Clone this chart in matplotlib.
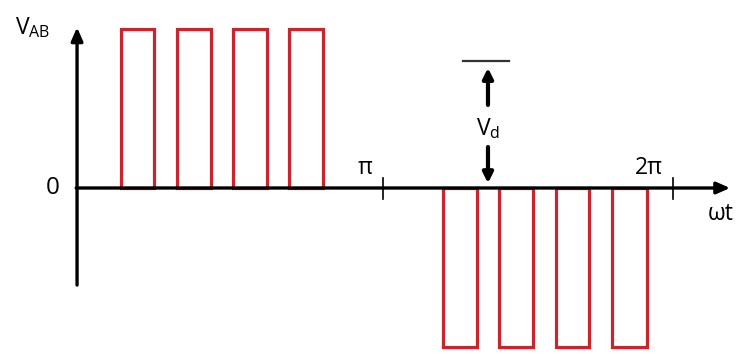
import matplotlib.pyplot as plt
from matplotlib.patches import Rectangle

# pulse edges in units of pi (start, end), amplitude +/-1 of Vd
pos_starts = [0.097, 0.290, 0.483, 0.676]
pos_ends = [0.210, 0.407, 0.600, 0.793]
neg_starts = [1.207, 1.400, 1.597, 1.790]
neg_ends = [1.324, 1.517, 1.710, 1.910]
amplitude = 1.0
tick_positions = [1, 2]
tick_labels = ["π", "2π"]

red = "#c8262c"

fig = plt.figure(figsize=(7.39, 3.55), dpi=100)
ax = fig.add_axes([0, 0, 1, 1])
ax.set_xlim(-0.3207, 2.2276)
ax.set_ylim(-1.050, 1.182)
ax.axis("off")

plt.rcParams["font.family"] = ["Open Sans", "DejaVu Sans"]
fs = 16.5

# switching pulses
for s, e in zip(pos_starts, pos_ends):
    ax.add_patch(Rectangle((s, 0), e - s, amplitude, fill=False,
                           edgecolor=red, lw=2.3, zorder=2))
for s, e in zip(neg_starts, neg_ends):
    ax.add_patch(Rectangle((s, 0), e - s, -amplitude, fill=False,
                           edgecolor=red, lw=2.3, zorder=2))

# axes with arrow heads
arrow = dict(arrowstyle="-|>,head_length=0.8,head_width=0.35", lw=2.4,
             color="black", shrinkA=0, shrinkB=0)
ax.annotate("", xy=(2.197, 0), xytext=(-0.058, 0), arrowprops=arrow, zorder=3)
ax.annotate("", xy=(-0.055, 1.01), xytext=(-0.055, -0.61), arrowprops=arrow, zorder=3)

# ticks at pi and 2pi
for t, lab in zip(tick_positions, tick_labels):
    ax.plot([t, t], [0.06, -0.07], color="black", lw=1.2, zorder=3)
    ax.text(t - 0.035, 0.05, lab, ha="right", va="bottom", fontsize=fs)

ax.text(-0.14, 0.0, "0", ha="center", va="center", fontsize=fs + 1)
ax.text(-0.27, 0.93, "V$_{\\mathregular{AB}}$", ha="left", va="bottom", fontsize=fs)
ax.text(2.165, -0.09, "ωt", ha="center", va="top", fontsize=fs)

# Vd dimension marker
ax.plot([1.276, 1.434], [0.799, 0.799], color="#333333", lw=1.6)
small = dict(arrowstyle="-|>,head_length=0.6,head_width=0.3", lw=3.0,
             color="black", shrinkA=0, shrinkB=0)
ax.annotate("", xy=(1.362, 0.755), xytext=(1.362, 0.522), arrowprops=small)
ax.annotate("", xy=(1.362, 0.03), xytext=(1.362, 0.258), arrowprops=small)
ax.text(1.362, 0.37, "V$_{\\mathregular{d}}$", ha="center", va="center", fontsize=fs)

fig.savefig("out.png", dpi=100)
